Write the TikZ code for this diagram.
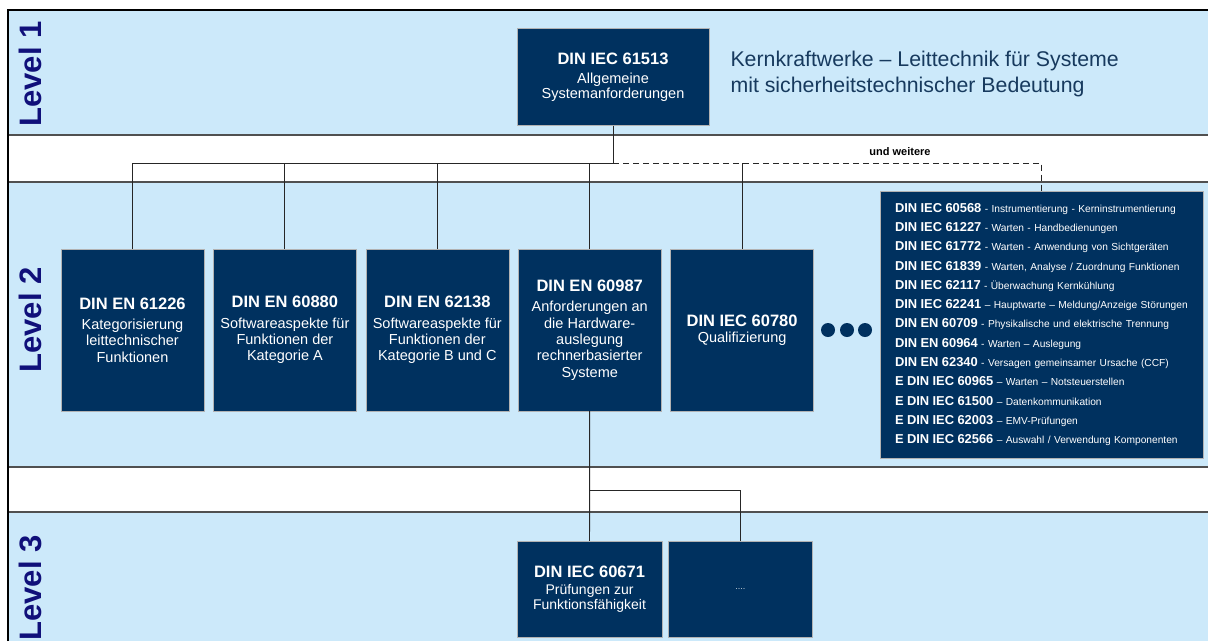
\documentclass[tikz,border=0pt]{standalone}
\usepackage{fontspec}
\setmainfont{Liberation Sans}
\usepackage{xcolor}
\usepackage{tikz}
\usetikzlibrary{positioning, calc}
\definecolor{cBAND}{HTML}{CCE9FA}
\definecolor{cBOX}{HTML}{00315F}
\definecolor{cLVL}{HTML}{10107A}
\definecolor{cTITLE}{HTML}{173A5E}
\definecolor{cRULE}{HTML}{505050}

\newcommand{\normno}[1]{{\fontsize{16.5}{19}\selectfont\bfseries #1}}
\newcommand{\listno}[1]{{\fontsize{12.9}{19.3}\selectfont\bfseries #1}}

\tikzset{
  normbox/.style={draw=gray!60, fill=cBOX, text=white, minimum width=143pt,
    minimum height=162pt, align=center, inner sep=2pt,
    font=\fontsize{14.5}{16.3}\selectfont},
  listbox/.style={draw=gray!60, fill=cBOX, text=white, minimum width=323pt,
    minimum height=267pt, text width=293pt, align=left, inner xsep=15pt,
    font=\fontsize{10.2}{19.3}\selectfont},
  lvl/.style={rotate=90, text=cLVL, font=\fontsize{31}{31}\selectfont\bfseries},
  tree/.style={draw=black!85, line width=0.9pt},
}

\begin{document}
\begin{tikzpicture}[x=1pt, y=-1pt]
  \useasboundingbox (0,0) rectangle (1208,641);

  % Bands
  \fill[cBAND] (8,10) rectangle (1208,135);
  \fill[cBAND] (8,182) rectangle (1208,467);
  \fill[cBAND] (8,512) rectangle (1208,641);
  \foreach \y in {135,182,467,512}
    \draw[cRULE, line width=1.5pt] (8,\y) -- (1208,\y);
  \draw[line width=2pt] (8,641) -- (8,10) -- (1208,10);

  % Level labels
  \node[lvl] (lvl1) at (30,74) {Level 1};
  \node[lvl] (lvl2) at (30,320) {Level 2};
  \node[lvl] (lvl3) at (30,588) {Level 3};

  % Level 1
  \node[normbox, minimum width=192pt, minimum height=97pt,
    font=\fontsize{14.5}{15}\selectfont] (iec61513) at (613,77)
    {\normno{DIN IEC 61513}\\[4pt] Allgemeine\\Systemanforderungen};
  \node[anchor=west, text=cTITLE, align=left, font=\fontsize{21.3}{26}\selectfont]
    (title) at (727,74) {Kernkraftwerke -- Leittechnik für Systeme\\mit sicherheitstechnischer Bedeutung};

  % Level 2
  \node[normbox] (en61226) at (132.5,330)
    {\normno{DIN EN 61226}\\[4pt] Kategorisierung\\leittechnischer\\Funktionen};
  \node[normbox, right=9pt of en61226] (en60880)
    {\normno{DIN EN 60880}\\[4pt] Softwareaspekte für\\Funktionen der\\Kategorie A};
  \node[normbox, right=9pt of en60880] (en62138)
    {\normno{DIN EN 62138}\\[4pt] Softwareaspekte für\\Funktionen der\\Kategorie B und C};
  \node[normbox, right=9pt of en62138] (en60987)
    {\normno{DIN EN 60987}\\[4pt] Anforderungen an\\die Hardware-\\auslegung\\rechnerbasierter\\Systeme};
  \node[normbox, right=9pt of en60987] (iec60780)
    {\normno{DIN IEC 60780}\\ Qualifizierung};
  \foreach \x in {828,847,865}
    \fill[cBOX] (\x,330) circle[radius=7pt];

  \node[listbox] (weitere) at (1041.5,324.5) {%
    \listno{DIN IEC 60568} - Instrumentierung - Kerninstrumentierung\\
    \listno{DIN IEC 61227} - Warten - Handbedienungen\\
    \listno{DIN IEC 61772} - Warten - Anwendung von Sichtgeräten\\
    \listno{DIN IEC 61839} - Warten, Analyse / Zuordnung Funktionen\\
    \listno{DIN IEC 62117} - Überwachung Kernkühlung\\
    \listno{DIN IEC 62241} -- Hauptwarte -- Meldung/Anzeige Störungen\\
    \listno{DIN EN 60709} - Physikalische und elektrische Trennung\\
    \listno{DIN EN 60964} - Warten -- Auslegung\\
    \listno{DIN EN 62340} - Versagen gemeinsamer Ursache (CCF)\\
    \listno{E DIN IEC 60965} -- Warten -- Notsteuerstellen\\
    \listno{E DIN IEC 61500} -- Datenkommunikation\\
    \listno{E DIN IEC 62003} -- EMV-Prüfungen\\
    \listno{E DIN IEC 62566} -- Auswahl / Verwendung Komponenten};

  % Level 3
  \node[normbox, minimum width=145pt, minimum height=96pt,
    font=\fontsize{14}{15}\selectfont] (iec60671) at (589.5,589)
    {\normno{DIN IEC 60671}\\[2pt] Prüfungen zur\\Funktionsfähigkeit};
  \node[normbox, minimum width=144pt, minimum height=96pt, right=6pt of iec60671,
    text=white!80!cBOX, font=\fontsize{9}{11}\selectfont] (more) {....};

  % Connectors
  \coordinate (hub) at (613,163);
  \coordinate (split) at (589.5,490);
  \draw[tree] (iec61513) -- (hub);
  \foreach \n in {en61226,en60880,en62138,en60987}
    \draw[tree] (hub) -| (\n.north);
  \draw[tree] (iec60780.north) -- (iec60780.north |- hub);
  \draw[tree, dash pattern=on 6pt off 4pt] (hub) -| (weitere.north);
  \node[font=\fontsize{11}{13}\selectfont\bfseries] (undweitere) at (900,152) {und weitere};

  \draw[tree] (en60987) -- (iec60671);
  \draw[tree] (split) -| (more.north);
\end{tikzpicture}
\end{document}
